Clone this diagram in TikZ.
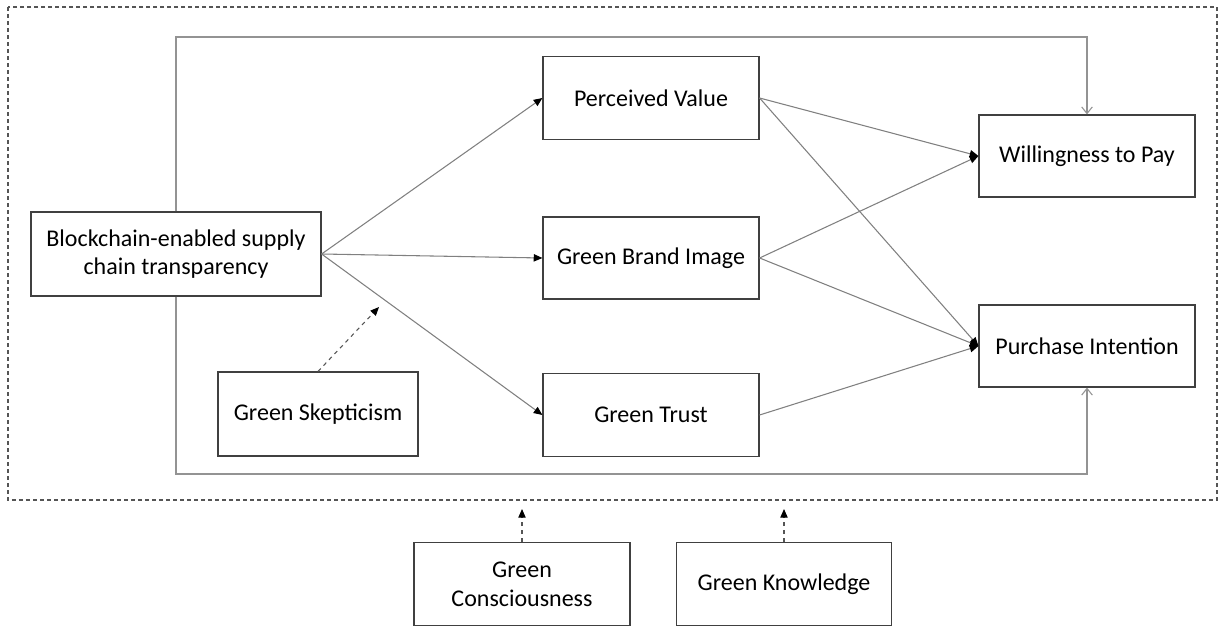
\documentclass[tikz,border=0pt]{standalone}
\usepackage{fontspec}
\setmainfont{Carlito}
\usepackage{tikz}
\usetikzlibrary{arrows.meta,calc,positioning}
\definecolor{boxgray}{HTML}{404040}
\definecolor{linegray}{HTML}{808080}
\definecolor{framegray}{HTML}{555555}

\begin{document}
\begin{tikzpicture}[x=0.75pt,y=-0.75pt,
		every node/.style={font=\fontsize{18}{21.5}\selectfont},
		box/.style={draw=boxgray,line width=0.9pt,fill=white,align=center,inner sep=0pt},
		path/.style={draw=linegray,line width=0.8pt,-{Triangle[length=6.5pt,width=5.5pt,color=black]}},
		direct/.style={draw=linegray!85,line width=0.8pt,-{Straight Barb[length=5pt,width=8pt]}},
		moder/.style={draw=framegray,line width=0.8pt,dashed,-{Triangle[length=6.5pt,width=5.5pt,color=black]}}]
	\useasboundingbox (0,0) rectangle (1224,628);
	%outer frame of the research model
	\draw[framegray,line width=0.9pt,dash pattern=on 3pt off 2.25pt] (8,7) rectangle (1217,500);

	%Notation: independent, mediators, outcomes, moderators
	\node[box,minimum width=217.5pt,minimum height=63pt] (blk) at (176,254) {Blockchain-enabled supply\\chain transparency};
	\node[box,minimum width=162pt,minimum height=62pt] (pv) at (651,98) {Perceived Value};
	\node[box,minimum width=162pt,minimum height=61.5pt] (gbi) at (651,258) {Green Brand Image};
	\node[box,minimum width=162pt,minimum height=62pt] (gt) at (651,415) {Green Trust};
	\node[box,minimum width=162pt,minimum height=61.5pt] (wtp) at (1087,156) {Willingness to Pay};
	\node[box,minimum width=162pt,minimum height=61.5pt] (pi) at (1087,346) {Purchase Intention};
	\node[box,minimum width=150pt,minimum height=63pt] (skep) at (318,414) {Green Skepticism};
	\node[box,minimum width=162pt,minimum height=62pt] (cons) at (522,584) {Green\\Consciousness};
	\node[box,minimum width=161pt,minimum height=62pt] (know) at (784,584) {Green Knowledge};

	% Paths from left to right
	\foreach \from/\to in {blk/pv, blk/gbi, blk/gt, pv/wtp, pv/pi, gbi/wtp, gbi/pi, gt/pi}{
		\draw[path] (\from.east) -- (\to.west);
	}

	% Direct effects round the mediators
	\coordinate (topy) at (0,37);
	\coordinate (boty) at (0,474);
	\draw[direct] (blk.north) |- (topy -| wtp.north) -- (wtp.north);
	\draw[direct] (blk.south) |- (boty -| pi.south) -- (pi.south);

	% Moderators
	\coordinate (skepTip) at (379,307);
	\coordinate (consTip) at (522,509);
	\coordinate (knowTip) at (784,509);
	\draw[moder] (skep.north) -- (skepTip);
	\draw[moder] (cons.north) -- (consTip);
	\draw[moder] (know.north) -- (knowTip);
\end{tikzpicture}
\end{document}
